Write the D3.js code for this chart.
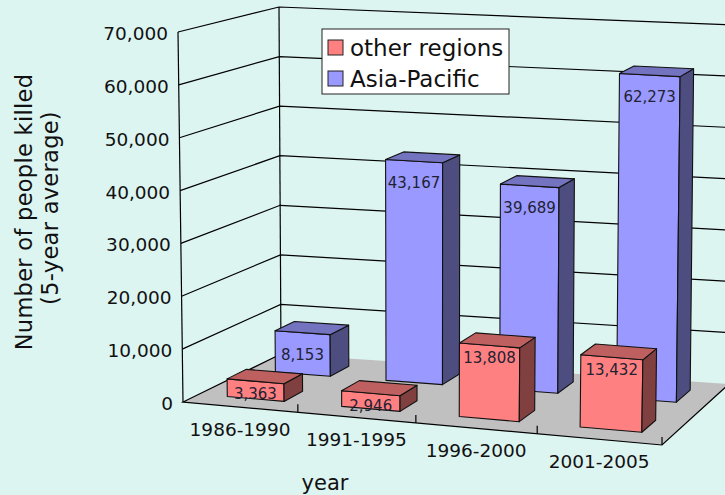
<!DOCTYPE html>
<html>
<head>
<meta charset="utf-8">
<script src="https://cdn.jsdelivr.net/npm/d3@7"></script>
<style>
  html, body { margin: 0; padding: 0; background: #ddf5f1; }
  svg { display: block; font-family: "DejaVu Sans", Verdana, sans-serif; }
</style>
</head>
<body>
<svg id="chart" width="725" height="495"></svg>
<script>
// ---- data ----
var categories = ['1986-1990', '1991-1995', '1996-2000', '2001-2005'];
var seriesNames = ['other regions', 'Asia-Pacific'];
var otherRegions = [3363, 2946, 13808, 13432];
var asiaPacific = [8153, 43167, 39689, 62273];
var yTicks = [0, 10000, 20000, 30000, 40000, 50000, 60000, 70000];

var seriesValues = {'other regions': otherRegions, 'Asia-Pacific': asiaPacific};
var colors = {
  'other regions': {front: '#ff8080', top: '#bf6060', side: '#804040'},
  'Asia-Pacific':  {front: '#9999ff', top: '#7373bf', side: '#4d4d80'}
};
var labelDrop = {'other regions': 13, 'Asia-Pacific': 22};

// ---- 3d box: screen corners of the plot cube (u = category, v = value, w = depth) ----
var box = {
  flb: [183, 402], flt: [178, 32], blb: [281, 354], blt: [279, 7],
  frb: [662, 445], frt: [668, 63], brb: [729, 384], brt: [733, 25]
};

function lerp(a, b, t) { return [a[0] + (b[0] - a[0]) * t, a[1] + (b[1] - a[1]) * t]; }

// slight perspective along the category direction
function warp(u) { return u / (u + 1.057 * (1 - u)); }

function proj(u, v, w) {
  var uu = warp(u);
  var fb = lerp(box.flb, box.frb, uu), ft = lerp(box.flt, box.frt, uu),
      bb = lerp(box.blb, box.brb, uu), bt = lerp(box.blt, box.brt, uu);
  var f = lerp(fb, ft, v), b = lerp(bb, bt, v);
  return lerp(f, b, w);
}

var x = d3.scaleBand().domain(categories).range([0, 1]).paddingInner(0.5).paddingOuter(0.25);
var y = d3.scaleLinear().domain([0, 70000]).range([0, 1]);
var z = d3.scaleBand().domain(seriesNames).range([0.015, 1.015]).paddingInner(0.6).paddingOuter(0.3);

var svg = d3.select('#chart');
var fmt = d3.format(',');
var line = d3.line();

function poly(pts) { return 'M' + pts.map(function(p) { return p[0] + ',' + p[1]; }).join('L') + 'Z'; }

// floor
svg.append('path')
  .attr('d', poly([proj(0, 0, 0), proj(1, 0, 0), proj(1, 0, 1), proj(0, 0, 1)]))
  .attr('fill', '#c0c0c0')
  .attr('stroke', 'none');
svg.append('path')
  .attr('d', line([proj(0, 0, 1), proj(0, 0, 0), proj(1, 0, 0), proj(1, 0, 1)]))
  .attr('fill', 'none')
  .attr('stroke', '#000')
  .attr('stroke-width', 1.2);

// gridlines on left and back walls
var grid = svg.append('g').attr('fill', 'none').attr('stroke', '#000').attr('stroke-width', 1.2);
yTicks.filter(function(t) { return t > 0; }).forEach(function(t) {
  var v = y(t);
  grid.append('path').attr('d', line([proj(0, v, 0), proj(0, v, 1), proj(1, v, 1)]));
});
grid.append('path').attr('d', line([proj(0, 0, 0), proj(0, 1, 0)]));
grid.append('path').attr('d', line([proj(0, 0, 1), proj(0, 1, 1)]));
grid.append('path').attr('d', line([proj(1, 0, 1), proj(1, 1, 1)]));

// category ticks
[0.25, 0.5, 0.75, 1].forEach(function(u) {
  var p = proj(u, 0, 0);
  grid.append('path').attr('d', line([p, [p[0], p[1] - 8]]));
});

// value axis labels
svg.append('g').selectAll('text')
  .data(yTicks)
  .enter().append('text')
  .attr('x', function(d) { return proj(0, y(d), 0)[0] - 10; })
  .attr('y', function(d) { return proj(0, y(d), 0)[1] + 1.5; })
  .attr('text-anchor', 'end')
  .attr('dominant-baseline', 'central')
  .attr('font-size', '18.5px')
  .attr('fill', '#111')
  .text(fmt);

// category labels
svg.append('g').selectAll('text')
  .data(categories)
  .enter().append('text')
  .attr('x', function(d) { return proj(x(d) + x.bandwidth() / 2, 0, 0)[0]; })
  .attr('y', function(d) { return proj(x(d) + x.bandwidth() / 2, 0, 0)[1] + 22; })
  .attr('text-anchor', 'middle')
  .attr('dominant-baseline', 'central')
  .attr('font-size', '18.5px')
  .attr('fill', '#111')
  .text(function(d) { return d; });

// bars, back row first
var bars = svg.append('g').attr('stroke', '#111').attr('stroke-width', 1.1).attr('stroke-linejoin', 'round');
seriesNames.slice().reverse().forEach(function(s) {
  var w0 = z(s), w1 = z(s) + z.bandwidth(), c = colors[s];
  seriesValues[s].forEach(function(val, i) {
    var u0 = x(categories[i]), u1 = u0 + x.bandwidth(), vt = y(val);
    var g = bars.append('g');
    g.append('path').attr('fill', c.front)
      .attr('d', poly([proj(u0, 0, w0), proj(u1, 0, w0), proj(u1, vt, w0), proj(u0, vt, w0)]));
    g.append('path').attr('fill', c.side)
      .attr('d', poly([proj(u1, 0, w0), proj(u1, 0, w1), proj(u1, vt, w1), proj(u1, vt, w0)]));
    g.append('path').attr('fill', c.top)
      .attr('d', poly([proj(u0, vt, w0), proj(u1, vt, w0), proj(u1, vt, w1), proj(u0, vt, w1)]));
    var lp = proj((u0 + u1) / 2, vt, w0);
    g.append('text')
      .attr('x', lp[0])
      .attr('y', lp[1] + labelDrop[s])
      .attr('text-anchor', 'middle')
      .attr('dominant-baseline', 'central')
      .attr('font-size', '15px')
      .attr('stroke', 'none')
      .attr('fill', '#222233')
      .text(fmt(val));
  });
});

// axis titles
svg.append('text')
  .attr('transform', 'translate(24,212) rotate(-90)')
  .attr('text-anchor', 'middle')
  .attr('dominant-baseline', 'central')
  .attr('font-size', '22.5px')
  .attr('letter-spacing', '0.3px')
  .attr('fill', '#111')
  .text('Number of people killed');
svg.append('text')
  .attr('transform', 'translate(50,208) rotate(-90)')
  .attr('text-anchor', 'middle')
  .attr('dominant-baseline', 'central')
  .attr('font-size', '22.5px')
  .attr('letter-spacing', '0.3px')
  .attr('fill', '#111')
  .text('(5-year average)');
svg.append('text')
  .attr('x', 325)
  .attr('y', 483)
  .attr('text-anchor', 'middle')
  .attr('dominant-baseline', 'central')
  .attr('font-size', '21px')
  .attr('fill', '#111')
  .text('year');

// legend
var legend = svg.append('g').attr('transform', 'translate(322,29)');
legend.append('rect')
  .attr('width', 187).attr('height', 65)
  .attr('fill', '#fff').attr('stroke', '#222').attr('stroke-width', 1);
var items = legend.selectAll('g.item')
  .data(seriesNames)
  .enter().append('g')
  .attr('class', 'item')
  .attr('transform', function(d, i) { return 'translate(6,' + (11 + i * 31) + ')'; });
items.append('rect')
  .attr('width', 15).attr('height', 15)
  .attr('fill', function(d) { return colors[d].front; })
  .attr('stroke', '#222').attr('stroke-width', 1);
items.append('text')
  .attr('x', 22).attr('y', 8)
  .attr('dominant-baseline', 'central')
  .attr('font-size', '23px')
  .attr('fill', '#111')
  .text(function(d) { return d; });
</script>
</body>
</html>
